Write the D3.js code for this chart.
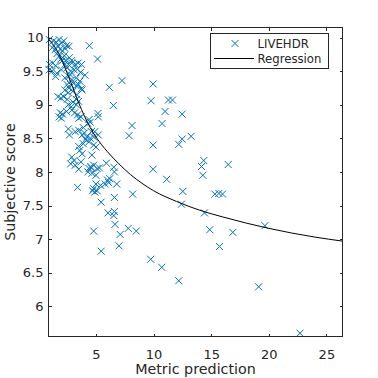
<!DOCTYPE html>
<html><head><meta charset="utf-8">
<script src="https://cdn.jsdelivr.net/npm/d3@7"></script>
<style>body{margin:0;background:#fff}svg{display:block}text{font-family:"DejaVu Sans",sans-serif;fill:#262626}</style>
</head><body><svg id="c" width="378" height="378"></svg>
<script>
const metricPred = [0.95,1.3,1.55,1.8,2.0,2.2,2.45,2.65,1.2,1.45,1.7,1.9,2.1,2.3,1.6,1.8,1.95,2.1,2.25,2.4,2.05,2.7,2.9,
0.95,1.25,1.5,2.3,2.6,2.9,3.2,3.45,3.75,0.95,1.2,1.6,2.0,2.5,2.8,3.1,3.4,3.65,4.05,1.5,2.3,2.65,2.9,3.3,3.6,2.75,
2.5,2.8,3.05,3.3,3.75,2.65,3.5,2.3,2.6,3.0,3.35,3.8,1.7,1.95,2.2,2.5,3.3,3.0,3.5,2.6,2.85,3.3,
1.9,2.1,2.45,2.9,3.15,3.4,1.8,2.0,3.5,3.7,4.4,4.5,4.3,2.6,3.2,3.5,4.0,4.6,4.9,3.9,
2.7,3.8,4.2,4.5,4.8,5.2,4.4,4.1,3.5,3.9,4.8,5.0,3.6,3.8,4.65,2.9,3.1,3.7,
2.8,3.2,3.5,4.4,4.55,5.1,5.3,4.8,5.9,4.6,4.3,4.65,5.0,6.0,6.2,6.1,5.0,3.4,5.8,6.8,5.4,
4.7,4.9,5.1,4.8,6.6,6.55,6.6,5.45,6.05,6.55,6.6,6.65,7.1,7.0,7.8,8.5,4.8,5.45,
4.42,5.14,7.26,9.96,6.16,9.78,11.29,11.64,11.0,6.51,5.17,5.2,12.48,10.74,8.13,7.87,13.26,12.48,12.19,9.96,
14.36,14.16,14.28,16.48,9.96,11.14,12.54,8.19,15.32,15.67,15.99,12.42,14.42,19.67,14.88,16.88,15.72,
9.75,10.71,12.19,19.12,22.71];
const subjScore = [9.97,9.95,9.93,9.97,9.92,9.95,9.88,9.87,9.85,9.82,9.88,9.83,9.8,9.84,9.76,9.72,9.68,9.7,9.73,9.66,9.65,9.7,9.66,
9.6,9.62,9.58,9.6,9.6,9.62,9.6,9.62,9.6,9.52,9.5,9.47,9.52,9.55,9.5,9.52,9.53,9.48,9.44,9.42,9.4,9.42,9.37,9.4,9.35,9.45,
9.3,9.3,9.32,9.28,9.24,9.25,9.3,9.22,9.18,9.2,9.15,9.22,9.12,9.1,9.12,9.08,9.08,9.04,9.05,9.0,8.97,9.0,
8.88,8.86,8.9,8.92,8.88,8.85,8.82,8.8,8.8,8.82,8.78,8.74,8.72,8.64,8.6,8.62,8.58,8.6,8.6,8.66,
8.55,8.55,8.52,8.5,8.52,8.55,8.45,8.48,8.38,8.42,8.4,8.37,8.32,8.27,8.25,8.22,8.17,8.15,
8.12,8.1,8.04,8.05,8.08,8.05,8.06,8.1,8.13,8.06,8.0,7.98,7.95,7.88,7.9,7.84,7.82,7.77,7.82,7.82,7.8,
7.72,7.7,7.72,7.75,8.0,8.07,7.62,7.55,7.39,7.35,7.41,7.22,7.07,6.9,7.16,7.12,7.12,6.82,
9.88,9.68,9.36,9.31,9.26,9.06,9.07,9.07,8.9,8.99,8.87,8.82,8.86,8.72,8.69,8.54,8.53,8.49,8.41,8.4,
8.17,8.08,7.95,8.11,8.04,7.89,7.71,7.67,7.67,7.68,7.67,7.52,7.39,7.2,7.14,7.1,6.89,
6.7,6.58,6.38,6.29,5.6];
const regX = [0.88,1.5,2,2.5,3,3.5,4,4.5,5,6,7,8,9,10,12,14,16,18,20,22,24,26.4];
const regY = [9.97,9.84,9.68,9.47,9.25,9.03,8.83,8.66,8.52,8.30,8.12,7.96,7.83,7.72,7.56,7.43,7.33,7.24,7.16,7.09,7.03,6.97];
const xTicks = [5,10,15,20,25];
const yTicks = [6,6.5,7,7.5,8,8.5,9,9.5,10];
const seriesNames = ["LIVEHDR","Regression"];
const xLabel = "Metric prediction", yLabel = "Subjective score";

const L=48.5,R=342.5,T=27.5,B=336.5;
const svg=d3.select("#c");
const x=d3.scaleLinear().domain([0.88,26.4]).range([L,R]);
const y=d3.scaleLinear().domain([5.55,10.15]).range([B,T]);
const col="#0072BD", ax="#262626";

const pts=metricPred.map((v,i)=>[v,subjScore[i]]);
const s=3.5;
svg.append("g").selectAll("path").data(pts).join("path")
  .attr("d",d=>{const cx=x(d[0]),cy=y(d[1]);return `M${cx-s},${cy-s}L${cx+s},${cy+s}M${cx-s},${cy+s}L${cx+s},${cy-s}`;})
  .attr("stroke",col).attr("stroke-width",1).attr("fill","none");

svg.append("path").datum(regX.map((v,i)=>[v,regY[i]]))
  .attr("d",d3.line().x(d=>x(d[0])).y(d=>y(d[1])).curve(d3.curveMonotoneX))
  .attr("stroke","#000").attr("stroke-width",1).attr("fill","none");

const fmt=d=>String(d);
const gb=svg.append("g").attr("transform",`translate(0,${B})`).call(d3.axisBottom(x).tickValues(xTicks).tickFormat(fmt).tickSizeInner(-3).tickSizeOuter(0).tickPadding(13));
const gt=svg.append("g").attr("transform",`translate(0,${T})`).call(d3.axisTop(x).tickValues(xTicks).tickFormat("").tickSizeInner(-3).tickSizeOuter(0));
const gl=svg.append("g").attr("transform",`translate(${L},0)`).call(d3.axisLeft(y).tickValues(yTicks).tickFormat(fmt).tickSizeInner(-3).tickSizeOuter(0).tickPadding(5));
const gr=svg.append("g").attr("transform",`translate(${R},0)`).call(d3.axisRight(y).tickValues(yTicks).tickFormat("").tickSizeInner(-3).tickSizeOuter(0));
[gb,gt,gl,gr].forEach(g=>{g.select(".domain").remove();g.selectAll("line").attr("stroke",ax).attr("shape-rendering","crispEdges");g.selectAll("text").attr("font-size",13).attr("fill",ax).attr("font-family","DejaVu Sans");});
svg.append("rect").attr("x",L).attr("y",T).attr("width",R-L).attr("height",B-T).attr("fill","none").attr("stroke",ax).attr("shape-rendering","crispEdges");

svg.append("text").attr("x",(L+R)/2).attr("y",373.5).attr("text-anchor","middle").attr("font-size",14.3).text(xLabel);
svg.append("text").attr("transform",`translate(14.5,${(T+B)/2}) rotate(-90)`).attr("text-anchor","middle").attr("font-size",14.3).text(yLabel);

const lg=svg.append("g");
lg.append("rect").attr("x",210.5).attr("y",33.5).attr("width",118).attr("height",35).attr("fill","#fff").attr("stroke",ax).attr("shape-rendering","crispEdges");
const mx=235,my=43.5;
lg.append("path").attr("d",`M${mx-s},${my-s}L${mx+s},${my+s}M${mx-s},${my+s}L${mx+s},${my-s}`).attr("stroke",col).attr("fill","none");
lg.append("line").attr("x1",214).attr("x2",254).attr("y1",58.5).attr("y2",58.5).attr("stroke","#000");
lg.append("text").attr("x",257.5).attr("y",my).attr("dy","0.35em").attr("font-size",11.7).text(seriesNames[0]);
lg.append("text").attr("x",257.5).attr("y",58.5).attr("dy","0.35em").attr("font-size",11.7).text(seriesNames[1]);
</script></body></html>
